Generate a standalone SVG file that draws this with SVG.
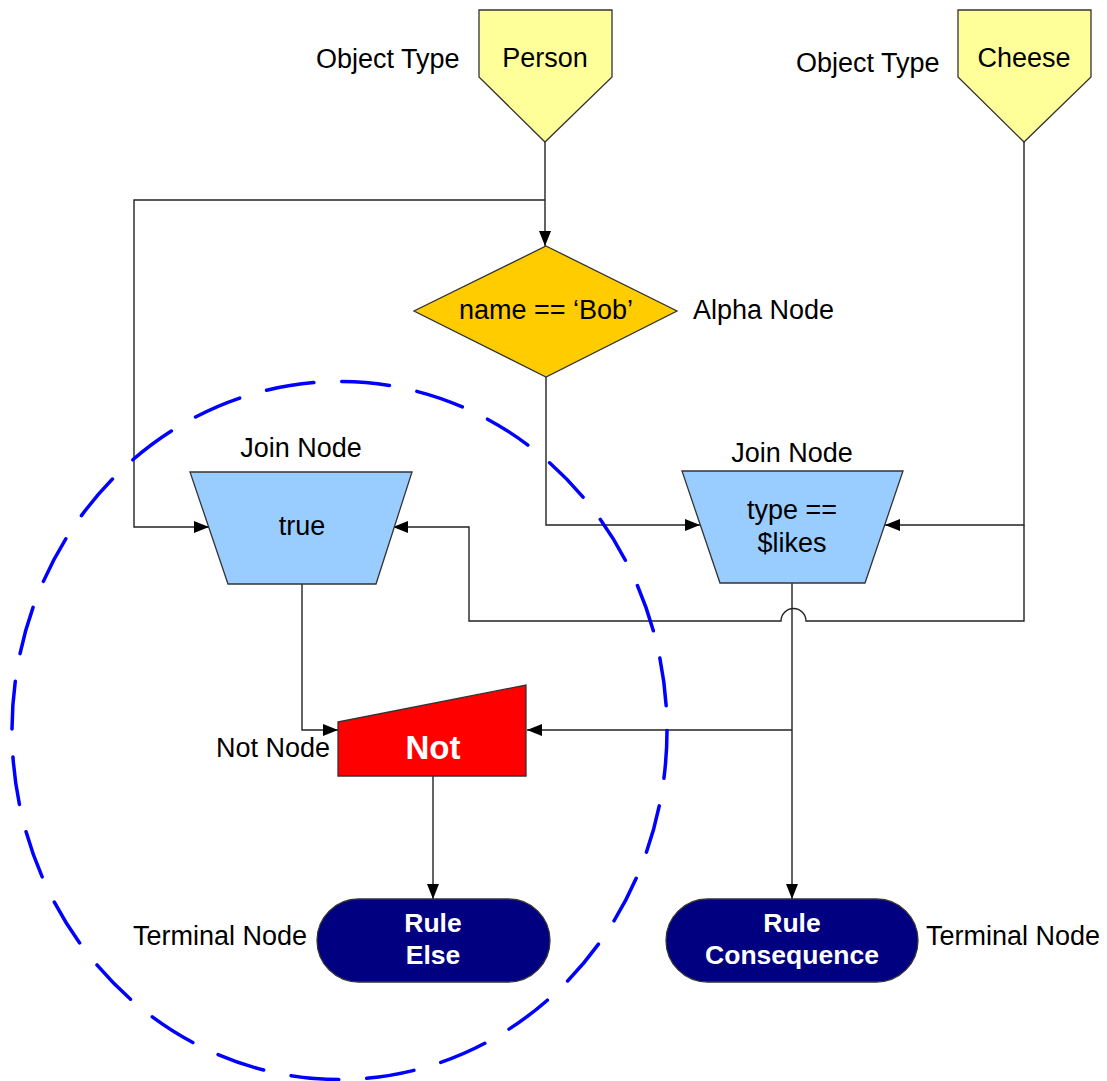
<svg xmlns="http://www.w3.org/2000/svg" width="1107" height="1081" viewBox="0 0 1107 1081">
<style>
.lbl{font-family:"Liberation Sans",Arial,sans-serif;font-size:27px;fill:#000}
.in{font-family:"Liberation Sans",Arial,sans-serif;font-size:27px;fill:#000;text-anchor:middle}
.bw{font-family:"Liberation Sans",Arial,sans-serif;font-size:26.5px;font-weight:bold;fill:#fff;text-anchor:middle}
.shape{stroke:#333;stroke-width:1.3}
.conn{fill:none;stroke:#222;stroke-width:1.4}
</style>
<defs>
<marker id="arr" markerUnits="userSpaceOnUse" markerWidth="15" markerHeight="15" viewBox="0 0 15 15" refX="15" refY="7.5" orient="auto">
<path d="M0,1.5 L15,7.5 L0,13.5 Z" fill="#000"/>
</marker>
</defs>
<rect width="1107" height="1081" fill="#fff"/>

<g id="connectors">
<path class="conn" d="M545,142 V246" marker-end="url(#arr)"/>
<path class="conn" d="M545,200 H134 V527 H209" marker-end="url(#arr)"/>
<path class="conn" d="M546,377 V525 H700" marker-end="url(#arr)"/>
<path class="conn" d="M1024,142 V525 H885" marker-end="url(#arr)"/>
<path class="conn" d="M1024,525 V621 H806 A12.5,12.5 0 0 0 781,621 H469 V527 H393" marker-end="url(#arr)"/>
<path class="conn" d="M302,584 V730 H338" marker-end="url(#arr)"/>
<path class="conn" d="M792,583 V899" marker-end="url(#arr)"/>
<path class="conn" d="M792,730 H527" marker-end="url(#arr)"/>
<path class="conn" d="M433,776 V899" marker-end="url(#arr)"/>
</g>

<g id="person">
<polygon class="shape" points="479,10 612,10 612,77 545,142 479,77" fill="#FFFF99"/>
<text class="in" x="545" y="67">Person</text>
<text class="lbl" x="316" y="68">Object Type</text>
</g>

<g id="cheese">
<polygon class="shape" points="958,10 1091,10 1091,77 1024,142 958,77" fill="#FFFF99"/>
<text class="in" x="1024" y="67">Cheese</text>
<text class="lbl" x="796" y="72">Object Type</text>
</g>

<g id="alpha">
<polygon class="shape" points="546,246 677,311 546,377 414,311" fill="#FFCC00"/>
<text class="in" x="546" y="319">name == ‘Bob’</text>
<text class="lbl" x="693" y="319">Alpha Node</text>
</g>

<g id="join-left">
<polygon class="shape" points="190,472 412,472 376,584 228,584" fill="#99CCFF"/>
<text class="in" x="302" y="535">true</text>
<text class="in" x="301" y="457">Join Node</text>
</g>

<g id="join-right">
<polygon class="shape" points="682,471 903,471 865,583 720,583" fill="#99CCFF"/>
<text class="in" x="792" y="519">type ==</text>
<text class="in" x="792" y="552">$likes</text>
<text class="in" x="792" y="462">Join Node</text>
</g>

<g id="not">
<polygon class="shape" points="338,722 526,685 526,776 338,776" fill="#FF0000"/>
<text class="bw" x="433" y="759" style="font-size:33px">Not</text>
<text class="lbl" x="216" y="757">Not Node</text>
</g>

<g id="rule-else">
<rect class="shape" x="317" y="899" width="233" height="83" rx="41.5" ry="41.5" fill="#000080"/>
<text class="bw" x="433" y="932">Rule</text>
<text class="bw" x="433" y="964">Else</text>
<text class="lbl" x="133" y="945">Terminal Node</text>
</g>

<g id="rule-consequence">
<rect class="shape" x="666" y="899" width="252" height="83" rx="41.5" ry="41.5" fill="#000080"/>
<text class="bw" x="792" y="932">Rule</text>
<text class="bw" x="792" y="964">Consequence</text>
<text class="lbl" x="926" y="945">Terminal Node</text>
</g>

<g id="not-scope">
<ellipse cx="339.5" cy="730.5" rx="327.5" ry="349" fill="none" stroke="#0000FF" stroke-width="3.5" stroke-dasharray="48 28" stroke-linecap="round"/>
</g>
</svg>
